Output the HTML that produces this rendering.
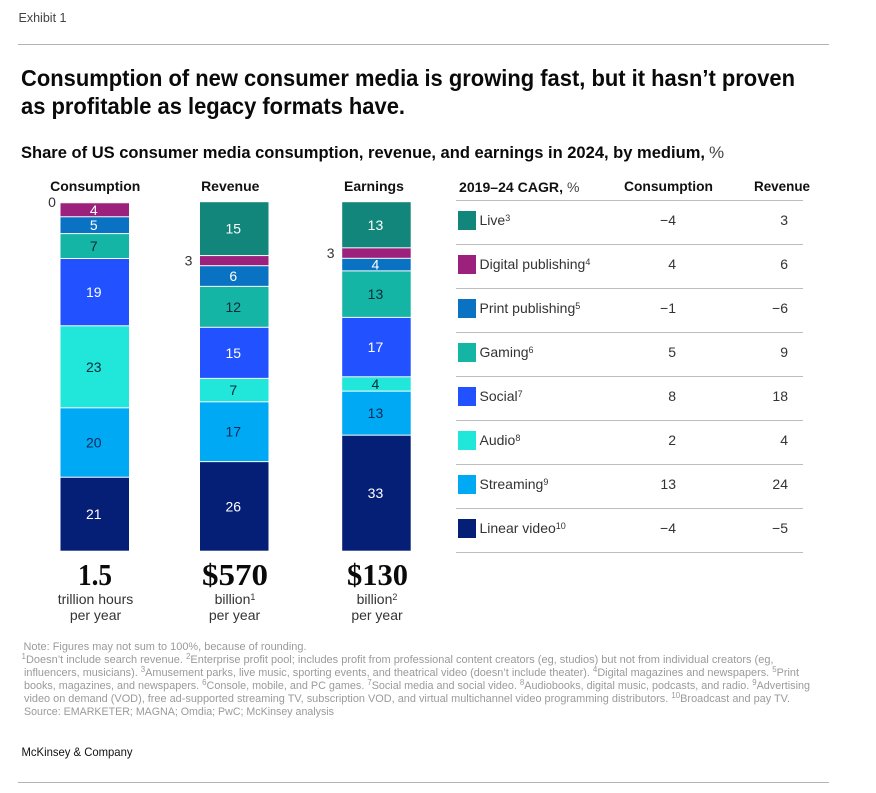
<!DOCTYPE html>
<html lang="en">
<head>
<meta charset="utf-8">
<title>Consumption of new consumer media</title>
<style>
html,body{margin:0;padding:0;background:#fff;width:876px;height:793px;overflow:hidden}
svg{display:block;font-family:"Liberation Sans",sans-serif}
.t{font-weight:700;font-size:23px;fill:#0a0a0a}
.sub{font-weight:700;font-size:17px;fill:#0a0a0a}
.hd{font-weight:700;font-size:14px;fill:#111}
.fn{font-size:11px;fill:#9a9a9a}
.sm{font-size:8px;baseline-shift:4px}
.sm2{font-size:9px;baseline-shift:4px}
.big{font-family:"Liberation Serif",serif;font-weight:700;font-size:31px;fill:#0a0a0a;text-anchor:middle}
.unit{font-size:14px;fill:#333;text-anchor:middle}
.seg{font-size:14px;text-anchor:middle}
.row{font-size:14px;fill:#333}
.val{font-size:14px;fill:#333;text-anchor:end}
</style>
</head>
<body>
<svg id="chart" width="876" height="793" viewBox="0 0 876 793" xmlns="http://www.w3.org/2000/svg">
  <rect width="876" height="793" fill="#fff"/>
  <text x="18.500" y="22" font-size="12.500" fill="#444" textLength="48" lengthAdjust="spacingAndGlyphs">Exhibit 1</text>
  <line x1="18" x2="829" y1="44.500" y2="44.500" stroke="#b3b3b3"/>
  <text class="t" x="21" y="86" textLength="774" lengthAdjust="spacingAndGlyphs">Consumption of new consumer media is growing fast, but it hasn’t proven</text>
  <text class="t" x="21" y="114" textLength="384" lengthAdjust="spacingAndGlyphs">as profitable as legacy formats have.</text>
  <text class="sub" x="21" y="158" textLength="684" lengthAdjust="spacingAndGlyphs">Share of US consumer media consumption, revenue, and earnings in 2024, by medium,</text>
  <text x="709" y="158" font-size="17" fill="#444">%</text>

  <g id="bars"></g>

  <text class="big" x="95" y="585" textLength="34" lengthAdjust="spacingAndGlyphs">1.5</text>
  <text class="unit" x="95.500" y="604">trillion hours</text>
  <text class="unit" x="95.500" y="620">per year</text>
  <text class="big" x="235" y="585" textLength="66" lengthAdjust="spacingAndGlyphs">$570</text>
  <text class="unit" x="235" y="604">billion<tspan class="sm2">1</tspan></text>
  <text class="unit" x="234.500" y="620">per year</text>
  <text class="big" x="377.500" y="585" textLength="61" lengthAdjust="spacingAndGlyphs">$130</text>
  <text class="unit" x="377" y="604">billion<tspan class="sm2">2</tspan></text>
  <text class="unit" x="377" y="620">per year</text>

  <text class="hd" x="459" y="192" textLength="104" lengthAdjust="spacingAndGlyphs">2019–24 CAGR,</text>
  <text x="567" y="192" font-size="14" fill="#444">%</text>
  <text class="hd" x="624" y="191" textLength="89" lengthAdjust="spacingAndGlyphs">Consumption</text>
  <text class="hd" x="754" y="191" textLength="56" lengthAdjust="spacingAndGlyphs">Revenue</text>
  <g id="table"></g>

  <g class="fn">
    <text x="23.500" y="650" textLength="283" lengthAdjust="spacingAndGlyphs">Note: Figures may not sum to 100%, because of rounding.</text>
    <text x="21.500" y="663" textLength="752" lengthAdjust="spacingAndGlyphs"><tspan class="sm">1</tspan>Doesn’t include search revenue. <tspan class="sm">2</tspan>Enterprise profit pool; includes profit from professional content creators (eg, studios) but not from individual creators (eg,</text>
    <text x="24" y="676" textLength="775" lengthAdjust="spacingAndGlyphs">influencers, musicians). <tspan class="sm">3</tspan>Amusement parks, live music, sporting events, and theatrical video (doesn’t include theater). <tspan class="sm">4</tspan>Digital magazines and newspapers. <tspan class="sm">5</tspan>Print</text>
    <text x="24" y="689" textLength="786" lengthAdjust="spacingAndGlyphs">books, magazines, and newspapers. <tspan class="sm">6</tspan>Console, mobile, and PC games. <tspan class="sm">7</tspan>Social media and social video. <tspan class="sm">8</tspan>Audiobooks, digital music, podcasts, and radio. <tspan class="sm">9</tspan>Advertising</text>
    <text x="24" y="702" textLength="766" lengthAdjust="spacingAndGlyphs">video on demand (VOD), free ad-supported streaming TV, subscription VOD, and virtual multichannel video programming distributors. <tspan class="sm">10</tspan>Broadcast and pay TV.</text>
    <text x="24" y="715" textLength="310" lengthAdjust="spacingAndGlyphs">Source: EMARKETER; MAGNA; Omdia; PwC; McKinsey analysis</text>
  </g>
  <text x="21.500" y="756" font-size="12" fill="#111" textLength="111" lengthAdjust="spacingAndGlyphs">McKinsey &amp; Company</text>
  <line x1="18" x2="829" y1="782.500" y2="782.500" stroke="#b3b3b3"/>
</svg>
<script>
// Data, ordered top of stack to bottom
const media = ['Live', 'Digital publishing', 'Print publishing', 'Gaming', 'Social', 'Audio', 'Streaming', 'Linear video'];
const footnoteRefs = ['3', '4', '5', '6', '7', '8', '9', '10'];
const consumptionShare = [0.3, 4.0, 4.8, 7.1, 19.2, 23.4, 19.8, 21.1];
const revenueShare = [15.4, 2.9, 5.9, 11.7, 14.6, 6.7, 17.1, 25.6];
const earningsShare = [13.2, 3.0, 3.6, 13.3, 17.0, 4.1, 12.6, 33.2];
const consumptionCagr = [-4, 4, -1, 5, 8, 2, 13, -4];
const revenueCagr = [3, 6, -6, 9, 18, 4, 24, -5];
const barNames = ['Consumption', 'Revenue', 'Earnings'];
const barShares = [consumptionShare, revenueShare, earningsShare];
const mediaColors = ['#12867b', '#9c217d', '#0a72c2', '#14b5a5', '#2251ff', '#21e6da', '#00a9f4', '#051f76'];
const labelColors = ['#ffffff', '#ffffff', '#ffffff', '#0b2a3a', '#ffffff', '#0b2a3a', '#0b2a5a', '#ffffff'];

const NS = 'http://www.w3.org/2000/svg';
const plotTop = 201.7, plotBottom = 551.2, barWidth = 68.500;
function barX(index) { return [60.500, 200, 342.200][index]; }
function barHeightScale(cum, total) { return plotTop + (plotBottom - plotTop) * cum / total; }
function rowY(index) { return 200.500 + index * 44; }
function fmt(v) { return v < 0 ? '\u2212' + Math.abs(v) : String(v); }
function make(tag, attrs, parent) {
  const el = document.createElementNS(NS, tag);
  for (const k in attrs) el.setAttribute(k, attrs[k]);
  parent.appendChild(el);
  return el;
}

const barsG = document.getElementById('bars');
barNames.forEach(function (name, b) {
  const vals = barShares[b];
  const total = vals.reduce(function (a, v) { return a + v; }, 0);
  const x = barX(b);
  const head = make('text', { x: x + barWidth / 2 + (b === 0 ? 0.5 : b === 1 ? -4 : -2.5), y: 191, 'class': 'hd', 'text-anchor': 'middle' }, barsG);
  
  
  head.textContent = name;
  let cum = 0;
  vals.forEach(function (v, i) {
    const y0 = barHeightScale(cum, total);
    const y1 = barHeightScale(cum + v, total);
    cum += v;
    const h = Math.max(y1 - y0 - 1, 0);
    const seg = make('rect', { x: x, y: y0 + 0.5, width: barWidth, height: h, fill: mediaColors[i] }, barsG);
    
    
    const outside = v < 3.5;
    const label = make('text', {
      x: outside ? x - (v < 1 ? 8.5 : 11.5) : x + barWidth / 2 - 1,
      y: (y0 + y1) / 2 + 5,
      'class': 'seg',
      fill: outside ? '#333333' : labelColors[i]
    }, barsG);
    
    
    label.textContent = String(Math.round(v));
  });
});

const tableG = document.getElementById('table');
const firstRule = make('line', { x1: 456, x2: 803, y1: rowY(0), y2: rowY(0), stroke: '#bdbdbd' }, tableG);


media.forEach(function (m, i) {
  const top = rowY(i);
  const sw = make('rect', { x: 458, y: top + 10.500, width: 18, height: 19, fill: mediaColors[i] }, tableG);
  
  
  const lab = make('text', { x: 479.500, y: top + 24.500, 'class': 'row' }, tableG);
  
  
  lab.appendChild(document.createTextNode(m));
  const sup = make('tspan', { 'class': 'sm2' }, lab);
  sup.textContent = footnoteRefs[i];
  const c = make('text', { x: 676, y: top + 24.500, 'class': 'val' }, tableG);
  
  
  c.textContent = fmt(consumptionCagr[i]);
  const r = make('text', { x: 788, y: top + 24.500, 'class': 'val' }, tableG);
  
  
  r.textContent = fmt(revenueCagr[i]);
  const rule = make('line', { x1: 456, x2: 803, y1: rowY(i + 1), y2: rowY(i + 1), stroke: '#bdbdbd' }, tableG);
  
  
});
</script>
</body>
</html>
